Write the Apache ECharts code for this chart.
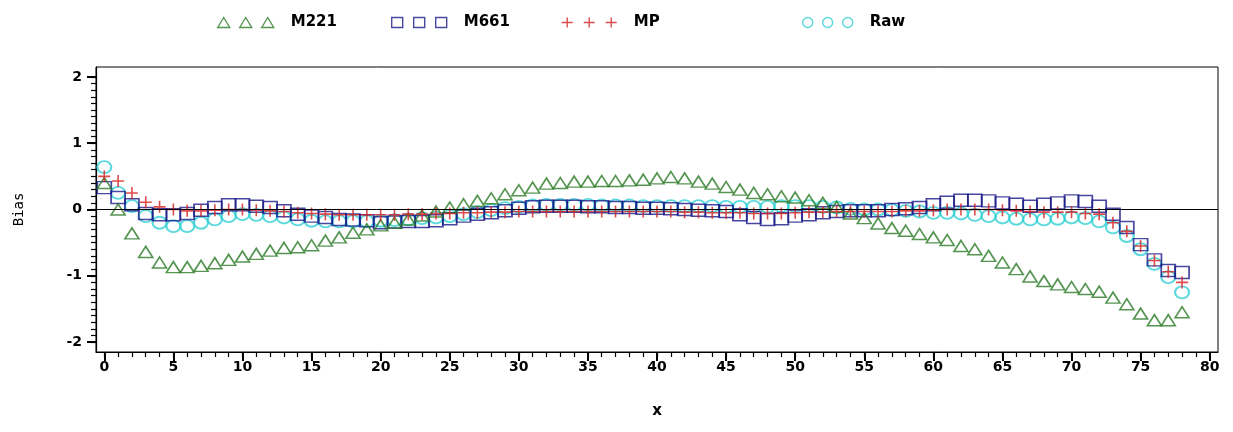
<!DOCTYPE html>
<html>
<head>
<meta charset="utf-8">
<script src="https://cdn.jsdelivr.net/npm/echarts@6/dist/echarts.min.js"></script>
<style>
html,body{margin:0;padding:0;background:#fff;}
#main{width:1233px;height:432px;}
</style>
</head>
<body>
<div id="main"></div>
<script>
// x positions 0..78
var xValues = [0,1,2,3,4,5,6,7,8,9,10,11,12,13,14,15,16,17,18,19,
    20,21,22,23,24,25,26,27,28,29,30,31,32,33,34,35,36,37,38,39,
    40,41,42,43,44,45,46,47,48,49,50,51,52,53,54,55,56,57,58,59,
    60,61,62,63,64,65,66,67,68,69,70,71,72,73,74,75,76,77,78];

var m221 = [0.40,0.00,-0.36,-0.64,-0.80,-0.87,-0.87,-0.85,-0.81,-0.76,
    -0.71,-0.67,-0.62,-0.58,-0.57,-0.54,-0.47,-0.42,-0.35,-0.30,
    -0.24,-0.20,-0.15,-0.09,-0.03,0.03,0.08,0.13,0.17,0.23,
    0.29,0.33,0.39,0.40,0.42,0.42,0.43,0.43,0.44,0.45,
    0.47,0.49,0.47,0.42,0.39,0.34,0.30,0.25,0.23,0.20,
    0.18,0.14,0.10,0.04,-0.06,-0.13,-0.21,-0.28,-0.32,-0.37,
    -0.42,-0.46,-0.55,-0.60,-0.70,-0.80,-0.90,-1.01,-1.08,-1.13,
    -1.17,-1.20,-1.24,-1.33,-1.43,-1.57,-1.67,-1.67,-1.55];

var m661 = [0.33,0.18,0.07,-0.06,-0.08,-0.08,-0.06,-0.01,0.03,0.07,
    0.07,0.05,0.03,-0.02,-0.07,-0.10,-0.12,-0.15,-0.16,-0.17,
    -0.20,-0.19,-0.18,-0.18,-0.17,-0.14,-0.10,-0.07,-0.05,-0.02,
    0.02,0.04,0.05,0.05,0.05,0.04,0.04,0.03,0.03,0.02,
    0.02,0.01,0.00,-0.01,-0.02,-0.03,-0.08,-0.12,-0.15,-0.14,
    -0.10,-0.08,-0.05,-0.03,-0.02,-0.02,-0.02,0.00,0.01,0.03,
    0.07,0.11,0.14,0.14,0.13,0.10,0.08,0.05,0.08,0.10,
    0.13,0.12,0.05,-0.07,-0.27,-0.53,-0.76,-0.92,-0.95];

var mp = [0.50,0.43,0.25,0.11,0.04,0.00,-0.02,-0.02,-0.01,0.00,
    0.00,-0.01,-0.02,-0.03,-0.05,-0.06,-0.07,-0.08,-0.08,-0.08,
    -0.08,-0.08,-0.07,-0.07,-0.06,-0.06,-0.05,-0.05,-0.04,-0.04,
    -0.03,-0.03,-0.03,-0.03,-0.03,-0.03,-0.03,-0.03,-0.03,-0.03,
    -0.03,-0.03,-0.04,-0.04,-0.05,-0.05,-0.05,-0.06,-0.06,-0.06,
    -0.05,-0.04,-0.04,-0.03,-0.03,-0.03,-0.03,-0.03,-0.02,-0.02,
    -0.01,0.00,0.00,0.00,0.00,-0.01,-0.02,-0.03,-0.04,-0.04,
    -0.04,-0.06,-0.07,-0.20,-0.33,-0.55,-0.77,-0.94,-1.10];

var raw = [0.64,0.25,0.05,-0.10,-0.20,-0.25,-0.25,-0.20,-0.15,-0.10,
    -0.07,-0.08,-0.10,-0.12,-0.15,-0.17,-0.18,-0.18,-0.18,-0.18,
    -0.17,-0.16,-0.15,-0.13,-0.12,-0.10,-0.07,-0.04,-0.01,0.02,
    0.04,0.06,0.07,0.07,0.07,0.07,0.06,0.06,0.06,0.05,
    0.05,0.05,0.05,0.05,0.05,0.04,0.04,0.04,0.04,0.05,
    0.05,0.05,0.04,0.03,0.01,0.00,0.00,-0.01,-0.02,-0.03,
    -0.05,-0.05,-0.06,-0.08,-0.10,-0.12,-0.14,-0.15,-0.15,-0.14,
    -0.12,-0.13,-0.18,-0.27,-0.40,-0.60,-0.82,-1.02,-1.25];

var xMajor = [0,5,10,15,20,25,30,35,40,45,50,55,60,65,70,75,80];
var xMinor = [0,1,2,3,4,5,6,7,8,9,10,11,12,13,14,15,16,17,18,19,20,
    21,22,23,24,25,26,27,28,29,30,31,32,33,34,35,36,37,38,39,40,
    41,42,43,44,45,46,47,48,49,50,51,52,53,54,55,56,57,58,59,60,
    61,62,63,64,65,66,67,68,69,70,71,72,73,74,75,76,77,78,79,80];
var yMajor = [-2,-1,0,1,2];
var yMinor = [-2,-1.9,-1.8,-1.7,-1.6,-1.5,-1.4,-1.3,-1.2,-1.1,-1,
    -0.9,-0.8,-0.7,-0.6,-0.5,-0.4,-0.3,-0.2,-0.1,0,
    0.1,0.2,0.3,0.4,0.5,0.6,0.7,0.8,0.9,1,
    1.1,1.2,1.3,1.4,1.5,1.6,1.7,1.8,1.9,2];

var cGreen = '#2a7a26', cBlue = '#1a1a8a', cRed = '#d41e1e', cCyan = '#30d0d4';

function pairs(arr){
    var out = [];
    for(var i=0;i<arr.length;i++){ out.push([xValues[i], arr[i]]); }
    return out;
}

var lblFont = {fontFamily:'DejaVu Sans', fontWeight:'bold', fontSize:14, color:'#000'};

function makeLegend(name, left, icon, color, width){
    return {
        data:[{name:name, icon:icon, itemStyle:{color:'rgba(0,0,0,0)', borderColor:color, borderWidth:1.4}}],
        left:left, top:10, itemWidth:width, itemHeight:11, itemGap:0,
        textStyle:{fontFamily:'DejaVu Sans', fontWeight:'bold', fontSize:15, color:'#000', padding:[0,0,0,12]},
        selectedMode:false
    };
}

var myChart = echarts.init(document.getElementById('main'), null, {renderer:'canvas'});
var option = {
    animation:false,
    backgroundColor:'#fff',
    legend:[
        makeLegend('M221', 212, 'path://M0,10L6,0L12,10Z M22,10L28,0L34,10Z M44,10L50,0L56,10Z', cGreen, 56),
        makeLegend('M661', 386, 'path://M0,0H11V10H0Z M22,0H33V10H22Z M44,0H55V10H44Z', cBlue, 55),
        makeLegend('MP', 556, 'path://M0,5H11M5.5,0V10 M22,5H33M27.5,0V10 M44,5H55M49.5,0V10', cRed, 55),
        makeLegend('Raw', 797, 'path://M0,5A5,5,0,1,1,10,5A5,5,0,1,1,0,5Z M20,5A5,5,0,1,1,30,5A5,5,0,1,1,20,5Z M40,5A5,5,0,1,1,50,5A5,5,0,1,1,40,5Z', cCyan, 50)
    ],
    grid:{left:96, right:15, top:67, bottom:80, show:true, borderColor:'#000', borderWidth:1, backgroundColor:'#fff'},
    xAxis:[
        {
            type:'value', min:-0.6, max:80.6,
            name:'x', nameLocation:'middle', nameGap:52,
            nameTextStyle:{fontFamily:'DejaVu Sans', fontWeight:'bold', fontSize:15, color:'#000'},
            axisLine:{show:true, onZero:false, lineStyle:{color:'#000', width:1.2}},
            axisTick:{show:true, length:9, customValues:xMajor, lineStyle:{color:'#000', width:2}},
            axisLabel:Object.assign({margin:8, customValues:xMajor}, lblFont),
            splitLine:{show:false}
        },
        {
            type:'value', min:-0.6, max:80.6, position:'bottom',
            axisLine:{show:false, onZero:false},
            axisTick:{show:true, length:5, customValues:xMinor, lineStyle:{color:'#000', width:1.2}},
            axisLabel:{show:false},
            splitLine:{show:false}
        }
    ],
    yAxis:[
        {
            type:'value', min:-2.15, max:2.15,
            name:'Bias', nameLocation:'middle', nameGap:70,
            nameTextStyle:{fontFamily:'DejaVu Sans Mono', fontSize:14, color:'#000'},
            axisLine:{show:true, onZero:false, lineStyle:{color:'#000', width:1.2}},
            axisTick:{show:true, length:9, customValues:yMajor, lineStyle:{color:'#000', width:2}},
            axisLabel:Object.assign({margin:14, customValues:yMajor}, lblFont),
            splitLine:{show:false}
        },
        {
            type:'value', min:-2.15, max:2.15, position:'left',
            axisLine:{show:false, onZero:false},
            axisTick:{show:true, length:5, customValues:yMinor, lineStyle:{color:'#000', width:1.2}},
            axisLabel:{show:false},
            splitLine:{show:false}
        }
    ],
    series:[
        {
            name:'Raw', type:'scatter', symbol:'circle', symbolSize:[14,12],
            itemStyle:{color:'rgba(0,0,0,0)', borderColor:cCyan, borderWidth:2},
            emphasis:{disabled:true},
            data:pairs(raw),
            markLine:{
                silent:true, symbol:'none', label:{show:false},
                lineStyle:{color:'#000', width:1, type:'solid'},
                data:[{yAxis:0}]
            }
        },
        {
            name:'M661', type:'scatter', symbol:'rect', symbolSize:[14,12],
            itemStyle:{color:'rgba(0,0,0,0)', borderColor:cBlue, borderWidth:1.6},
            emphasis:{disabled:true},
            data:pairs(m661)
        },
        {
            name:'M221', type:'scatter', symbol:'triangle', symbolSize:[14,11],
            itemStyle:{color:'rgba(0,0,0,0)', borderColor:cGreen, borderWidth:1.6},
            emphasis:{disabled:true},
            data:pairs(m221)
        },
        {
            name:'MP', type:'scatter', symbol:'path://M0,5H10M5,0V10', symbolSize:12,
            itemStyle:{color:'rgba(0,0,0,0)', borderColor:cRed, borderWidth:1.6},
            emphasis:{disabled:true},
            data:pairs(mp)
        }
    ]
};
myChart.setOption(option);
</script>
</body>
</html>
